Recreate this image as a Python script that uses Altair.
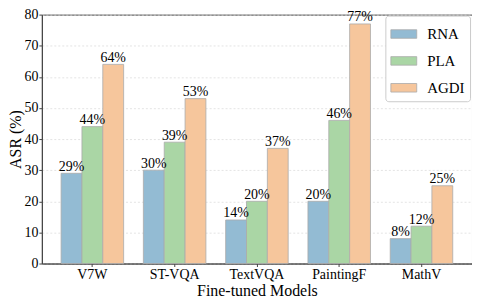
import altair as alt
import pandas as pd

models = ["V7W", "ST-VQA", "TextVQA", "PaintingF", "MathV"]
methods = ["RNA", "PLA", "AGDI"]
rna = [29, 30, 14, 20, 8]
pla = [44, 39, 20, 46, 12]
agdi = [64, 53, 37, 77, 25]
colors = ["#93bbd3", "#aad6a5", "#f6c69c"]
y_ticks = [0, 10, 20, 30, 40, 50, 60, 70, 80]

rows = []
for i, m in enumerate(models):
    for meth, vals in zip(methods, [rna, pla, agdi]):
        rows.append({"model": m, "method": meth, "asr": vals[i], "label": f"{vals[i]}%"})
df = pd.DataFrame(rows)

FONT = "Liberation Serif"

x = alt.X("model:N", sort=models, title="Fine-tuned Models",
          scale=alt.Scale(paddingInner=0.24, paddingOuter=0.234),
          axis=alt.Axis(labelAngle=0, labelFontSize=14, titleFontSize=16,
                        labelPadding=1, titlePadding=1, tickSize=3, grid=False))
xo = alt.XOffset("method:N", sort=methods, scale=alt.Scale(paddingInner=0, paddingOuter=0))
y = alt.Y("asr:Q", title="ASR (%)",
          scale=alt.Scale(domain=[0, 80], nice=False),
          axis=alt.Axis(values=y_ticks, labelFontSize=14, titleFontSize=16,
                        tickSize=3, labelPadding=1, titlePadding=0, labelOverlap=False,
                        grid=True, gridDash=[2, 2], gridColor="#dddddd", gridWidth=0.8))
color = alt.Color("method:N", sort=methods,
                  scale=alt.Scale(domain=methods, range=colors),
                  legend=alt.Legend(title=None, orient="none", legendX=345, legendY=1,
                                    symbolType="M-1,-0.33H1V0.33H-1Z", symbolSize=676,
                                    symbolStrokeColor="#aaaaaa", symbolStrokeWidth=0.8,
                                    symbolOpacity=1,
                                    labelFontSize=15, labelFont=FONT, labelOffset=10,
                                    rowPadding=5, padding=5, fillColor="white",
                                    strokeColor="#cccccc", cornerRadius=3))

bars = alt.Chart(df).mark_bar(stroke="#aaaaaa", strokeWidth=0.8).encode(
    x=x, xOffset=xo, y=y, color=color)

text = alt.Chart(df).mark_text(baseline="alphabetic", dy=-2.5, fontSize=14, font=FONT,
                               color="black").encode(
    x=x, xOffset=xo, y=y, text="label:N")

chart = alt.layer(bars, text).properties(
    width=432, height=250,
    autosize=alt.AutoSizeParams(type="none"),
    padding={"left": 34, "top": 6, "right": 0, "bottom": 36},
).configure(font=FONT).configure_view(stroke="#444444", strokeWidth=1).configure_axis(
    domainColor="#444444", tickColor="#444444", labelColor="black", titleColor="black",
    labelFont=FONT, titleFont=FONT, titleFontWeight="normal")

chart.save("out.html", embed_options={"renderer": "svg", "actions": False})
